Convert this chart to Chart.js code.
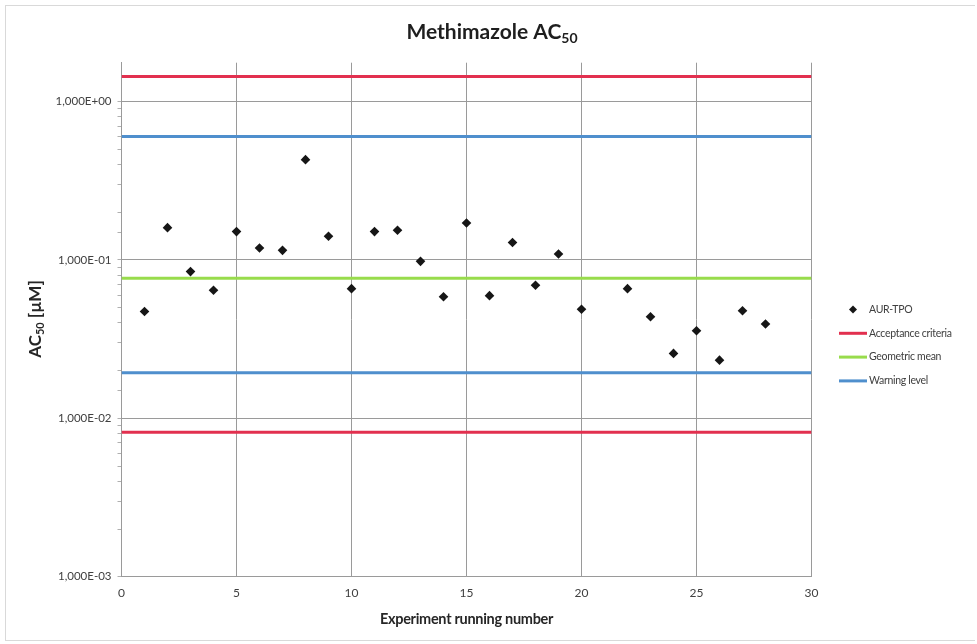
<!DOCTYPE html>
<html>
<head>
<meta charset="utf-8">
<title>Methimazole AC50</title>
<script src="https://cdn.jsdelivr.net/npm/chart.js@4.4.1/dist/chart.umd.min.js"></script>
<style>
  html, body { margin: 0; padding: 0; background: #fff; }
  #wrap { position: relative; width: 977px; height: 644px; }
  #frame {
    position: absolute; left: 5px; top: 5px; width: 970px; height: 636px;
    border: 1px solid #d9d9d9; border-right: none; box-sizing: border-box; pointer-events: none;
  }
</style>
</head>
<body>
<div id="wrap">
  <canvas id="chartAC50"></canvas>
  <div id="frame"></div>
</div>
<script>
// ── Données ───────────────────────────────────────────────
const runs = [1, 2, 3, 4, 5, 6, 7, 8, 9, 10, 11, 12, 13, 14, 15, 16, 17, 18, 19, 20, 22, 23, 24, 25, 26, 27, 28];
const ac50 = [0.0473, 0.160, 0.0844, 0.0644, 0.151, 0.119, 0.115, 0.430, 0.141, 0.0659,
              0.151, 0.154, 0.098, 0.0586, 0.171, 0.0595, 0.129, 0.0692, 0.109, 0.0488,
              0.0659, 0.0438, 0.0257, 0.0357, 0.0233, 0.0478, 0.0394];

const acceptance = [1.44, 0.00816];   // limites haute / basse
const geoMean    = [0.0766];
const warning    = [0.601, 0.0194];   // niveau d'alerte haut / bas

const xRange = [0, 30];
const xTicks = [0, 5, 10, 15, 20, 25, 30];
const yRange = [0.001, 1.76];

const C_RED = '#e2304f', C_GREEN = '#98dc4c', C_BLUE = '#4f8fcd';
const TXT = '#404040';
const GRID = '#9a9a9a';
const FONT = 'Lato, "Open Sans", sans-serif';

// lignes horizontales sur toute la largeur, séparées par un trou
function hLines(vals) {
  const pts = [];
  vals.forEach((v, i) => {
    if (i > 0) pts.push({ x: xRange[1], y: null });
    pts.push({ x: xRange[0], y: v }, { x: xRange[1], y: v });
  });
  return pts;
}

const isDecade = v => Math.abs(Math.log10(v) - Math.round(Math.log10(v))) < 1e-9;

function sciLabel(v) {
  const e = Math.round(Math.log10(v));
  const s = e < 0 ? '-' : '+';
  return '1,000E' + s + String(Math.abs(e)).padStart(2, '0');
}

// ── Titres avec indice (AC50) ─────────────────────────────
function drawSub(ctx, parts, x, y, align, spacing) {
  // parts : [[texte, taille, décalage]]
  ctx.letterSpacing = (spacing || 0) + 'px';
  let total = 0;
  parts.forEach(p => { ctx.font = 'bold ' + p[1] + 'px ' + FONT; total += ctx.measureText(p[0]).width; });
  let cx = align === 'center' ? x - total / 2 : x;
  parts.forEach(p => {
    ctx.font = 'bold ' + p[1] + 'px ' + FONT;
    ctx.fillText(p[0], cx, y + p[2]);
    cx += ctx.measureText(p[0]).width;
  });
  ctx.letterSpacing = '0px';
}

const titlesPlugin = {
  id: 'titles',
  afterDraw(chart) {
    const ctx = chart.ctx;
    const a = chart.chartArea;
    ctx.save();
    ctx.fillStyle = '#1e1e1e';
    ctx.textBaseline = 'alphabetic';
    ctx.textAlign = 'left';
    drawSub(ctx, [['Methimazole AC', 21, 0], ['50', 14, 4]], 492, 39, 'center');

    ctx.fillStyle = '#262626';
    drawSub(ctx, [['Experiment running number', 14.5, 0]], (a.left + a.right) / 2, 624, 'center', -0.3);

    ctx.translate(41, 319);
    ctx.rotate(-Math.PI / 2);
    drawSub(ctx, [['AC', 17, 0], ['50', 11, 3], [' [µM]', 17, 0]], 0, 0, 'center');
    ctx.restore();
  }
};

// ── Légende à droite ──────────────────────────────────────
const legendPlugin = {
  id: 'sideLegend',
  afterDraw(chart) {
    const ctx = chart.ctx;
    const x0 = 839, x1 = 867, tx = 869;
    let y = 309.5;
    ctx.save();
    ctx.font = '10.5px ' + FONT;
    ctx.letterSpacing = '-0.3px';
    ctx.textBaseline = 'middle';
    chart.data.datasets.forEach(ds => {
      if (ds.type === 'scatter') {
        const cx = (x0 + x1) / 2;
        ctx.fillStyle = ds.backgroundColor;
        ctx.beginPath();
        ctx.moveTo(cx - 4, y); ctx.lineTo(cx, y - 4); ctx.lineTo(cx + 4, y); ctx.lineTo(cx, y + 4);
        ctx.closePath(); ctx.fill();
      } else {
        ctx.strokeStyle = ds.borderColor;
        ctx.lineWidth = 3;
        ctx.beginPath(); ctx.moveTo(x0, y); ctx.lineTo(x1, y); ctx.stroke();
      }
      ctx.fillStyle = TXT;
      ctx.fillText(ds.label, tx, y);
      y += 23.8;
    });
    ctx.restore();
  }
};

new Chart(document.getElementById('chartAC50'), {
  data: {
    datasets: [
      {
        type: 'scatter',
        label: 'AUR-TPO',
        data: runs.map((r, i) => ({ x: r, y: ac50[i] })),
        pointStyle: 'rectRot',
        pointRadius: 4.8,
        backgroundColor: '#161616',
        borderColor: '#161616',
        borderWidth: 0
      },
      { type: 'line', label: 'Acceptance criteria', data: hLines(acceptance), borderColor: C_RED,   borderWidth: 3, pointRadius: 0, spanGaps: false },
      { type: 'line', label: 'Geometric mean',      data: hLines(geoMean),    borderColor: C_GREEN, borderWidth: 3, pointRadius: 0, spanGaps: false },
      { type: 'line', label: 'Warning level',       data: hLines(warning),    borderColor: C_BLUE,  borderWidth: 3, pointRadius: 0, spanGaps: false }
    ]
  },
  options: {
    responsive: true,
    maintainAspectRatio: false,
    animation: false,
    layout: { padding: { top: 62.7, right: 165.5, bottom: 0, left: 0 } },
    plugins: { legend: { display: false }, tooltip: { enabled: false } },
    scales: {
      x: {
        type: 'linear',
        min: xRange[0],
        max: xRange[1],
        afterFit: s => { s.height = 67.3; },
        afterBuildTicks: s => { s.ticks = xTicks.map(v => ({ value: v })); },
        ticks: { color: TXT, font: { family: FONT, size: 12 }, padding: 9 },
        grid: { color: GRID, drawTicks: false },
        border: { color: GRID }
      },
      y: {
        type: 'logarithmic',
        min: yRange[0],
        max: yRange[1],
        afterFit: s => { s.width = 121.5; },
        ticks: {
          autoSkip: false,
          color: TXT,
          font: { family: FONT, size: 11.5 },
          padding: 6,
          callback: v => isDecade(v) ? sciLabel(v) : ''
        },
        grid: {
          color: c => (c.tick && isDecade(c.tick.value)) ? GRID : 'rgba(0,0,0,0)',
          tickColor: c => (c.tick && c.tick.value <= 1.0000001) ? '#b0b0b0' : 'rgba(0,0,0,0)',
          tickLength: 4
        },
        border: { color: GRID }
      }
    }
  },
  plugins: [titlesPlugin, legendPlugin]
});
</script>
</body>
</html>
